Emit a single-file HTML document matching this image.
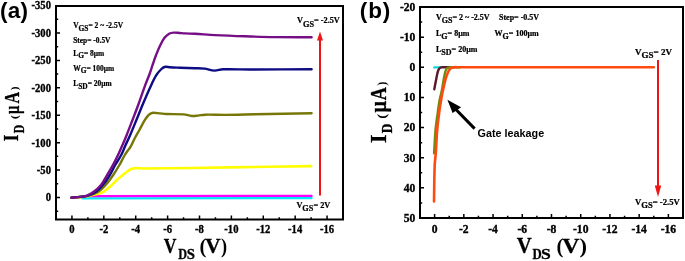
<!DOCTYPE html>
<html><head><meta charset="utf-8"><style>
html,body{margin:0;padding:0;background:#fff;}
body{width:685px;height:261px;overflow:hidden;}
svg{display:block;will-change:transform;}
</style></head><body>
<svg width="685" height="261" viewBox="0 0 685 261">
<rect width="685" height="261" fill="#fff"/>
<path d="M82.00 198.30 L311.60 198.10" stroke="#00eaff" stroke-width="2.3" fill="none" stroke-linejoin="round" stroke-linecap="round"/>
<path d="M89.00 196.10 L311.60 195.90" stroke="#ff00ff" stroke-width="2.3" fill="none" stroke-linejoin="round" stroke-linecap="round"/>
<path d="M71.50 197.60 C74.33 197.43 77.18 197.37 80.00 197.10 C82.68 196.84 85.35 196.46 88.00 196.00 C91.08 195.46 94.19 194.93 97.20 194.10 C99.29 193.53 101.47 192.92 103.30 191.80 C106.07 190.12 108.54 187.85 111.00 185.70 C113.27 183.72 115.27 181.43 117.50 179.40 C119.40 177.66 121.39 176.01 123.40 174.40 C125.05 173.08 126.74 171.77 128.50 170.60 C129.54 169.91 130.64 169.23 131.80 168.80 C132.87 168.40 134.05 168.13 135.20 168.10 C138.45 168.03 141.73 168.52 145.00 168.50 C173.33 168.29 201.67 167.81 230.00 167.40 C257.07 167.01 284.13 166.53 311.20 166.10" stroke="#ffff00" stroke-width="2.6" fill="none" stroke-linejoin="round" stroke-linecap="round"/>
<path d="M71.50 197.60 C74.33 197.40 77.18 197.29 80.00 197.00 C82.68 196.72 85.42 196.62 88.00 195.90 C91.42 194.95 95.01 193.85 98.00 192.00 C100.88 190.22 103.31 187.56 105.60 185.00 C108.38 181.89 110.82 178.44 113.20 175.00 C115.42 171.78 117.43 168.39 119.40 165.00 C121.30 161.72 122.89 158.27 124.80 155.00 C125.76 153.37 126.90 151.84 128.00 150.30 C128.57 149.51 129.26 148.81 129.80 148.00 C130.43 147.04 130.98 146.02 131.50 145.00 C132.68 142.69 133.69 140.29 134.90 138.00 C136.33 135.29 137.93 132.68 139.40 130.00 C141.16 126.78 142.69 123.42 144.60 120.30 C145.73 118.46 147.04 116.67 148.50 115.10 C149.18 114.37 150.10 113.83 151.00 113.40 C151.70 113.06 152.52 112.80 153.30 112.80 C155.52 112.80 157.77 113.19 160.00 113.40 C162.00 113.59 163.99 113.92 166.00 114.00 C171.89 114.25 177.84 113.94 183.70 114.40 C186.40 114.61 189.01 115.77 191.70 116.00 C193.78 116.17 195.91 115.80 198.00 115.60 C200.34 115.37 202.65 114.76 205.00 114.70 C211.65 114.53 218.33 114.95 225.00 114.90 C235.00 114.82 245.00 114.50 255.00 114.30 C273.87 113.93 292.73 113.57 311.60 113.20" stroke="#777708" stroke-width="2.4" fill="none" stroke-linejoin="round" stroke-linecap="round"/>
<path d="M71.50 197.60 C74.33 197.37 77.18 197.23 80.00 196.90 C82.34 196.63 84.76 196.50 87.00 195.80 C90.00 194.86 93.12 193.75 95.70 192.00 C98.42 190.15 100.77 187.56 102.90 185.00 C105.47 181.90 107.68 178.44 109.80 175.00 C111.78 171.78 113.32 168.29 115.20 165.00 C117.12 161.62 119.41 158.44 121.20 155.00 C122.88 151.78 124.11 148.32 125.60 145.00 C127.11 141.65 128.75 138.37 130.20 135.00 C132.35 130.03 134.35 125.01 136.40 120.00 C138.45 115.01 140.40 109.97 142.50 105.00 C144.90 99.31 147.31 93.61 149.90 88.00 C151.81 83.84 153.64 79.59 156.00 75.70 C157.48 73.26 159.35 70.94 161.40 69.00 C162.49 67.97 163.98 67.08 165.40 66.80 C166.84 66.51 168.46 67.21 170.00 67.30 C173.33 67.51 176.67 67.58 180.00 67.70 C185.00 67.88 190.00 68.02 195.00 68.20 C198.17 68.32 201.36 68.21 204.50 68.60 C207.86 69.01 211.15 70.47 214.50 70.60 C217.29 70.71 220.07 69.39 222.90 69.30 C231.91 69.02 240.97 69.50 250.00 69.50 C270.53 69.50 291.07 69.37 311.60 69.30" stroke="#0e0c84" stroke-width="2.4" fill="none" stroke-linejoin="round" stroke-linecap="round"/>
<path d="M71.20 197.70 C74.13 197.43 77.08 197.27 80.00 196.90 C82.15 196.63 84.39 196.53 86.40 195.80 C88.86 194.90 91.28 193.57 93.40 192.00 C96.15 189.97 98.86 187.66 101.00 185.00 C103.43 181.99 105.10 178.36 107.10 175.00 C109.07 171.69 111.06 168.38 112.90 165.00 C114.69 161.72 116.38 158.37 118.00 155.00 C119.58 151.71 121.04 148.35 122.50 145.00 C123.94 141.68 125.36 138.36 126.70 135.00 C128.69 130.02 130.58 125.01 132.50 120.00 C134.41 115.01 136.37 110.02 138.20 105.00 C140.63 98.32 142.85 91.57 145.30 84.90 C146.52 81.57 147.99 78.33 149.20 75.00 C150.52 71.37 151.64 67.66 152.90 64.00 C153.88 61.16 154.82 58.30 155.90 55.50 C157.15 52.27 158.39 49.01 159.90 45.90 C161.25 43.11 162.65 40.25 164.50 37.80 C165.72 36.18 167.37 34.68 169.10 33.70 C170.43 32.95 172.14 32.70 173.70 32.60 C175.61 32.47 177.57 32.86 179.50 33.00 C181.33 33.13 183.16 33.31 185.00 33.40 C188.33 33.57 191.67 33.61 195.00 33.80 C201.67 34.18 208.33 34.77 215.00 35.10 C224.99 35.60 235.00 35.97 245.00 36.30 C255.00 36.63 265.00 36.95 275.00 37.10 C287.20 37.28 299.40 37.23 311.60 37.30" stroke="#760f86" stroke-width="2.4" fill="none" stroke-linejoin="round" stroke-linecap="round"/>
<rect x="56.0" y="6.0" width="287.0" height="213.5" fill="none" stroke="#000" stroke-width="2"/>
<path d="M71.94 219.5v-4.00 M103.83 219.5v-4.00 M135.72 219.5v-4.00 M167.61 219.5v-4.00 M199.50 219.5v-4.00 M231.39 219.5v-4.00 M263.28 219.5v-4.00 M295.17 219.5v-4.00 M327.06 219.5v-4.00 M87.89 219.5v-2.20 M119.78 219.5v-2.20 M151.67 219.5v-2.20 M183.56 219.5v-2.20 M215.44 219.5v-2.20 M247.33 219.5v-2.20 M279.22 219.5v-2.20 M311.11 219.5v-2.20 M56.0 32.96h4.00 M56.0 60.39h4.00 M56.0 87.81h4.00 M56.0 115.23h4.00 M56.0 142.66h4.00 M56.0 170.08h4.00 M56.0 197.50h4.00 M56.0 19.25h2.20 M56.0 46.67h2.20 M56.0 74.10h2.20 M56.0 101.52h2.20 M56.0 128.94h2.20 M56.0 156.37h2.20 M56.0 183.79h2.20 M56.0 211.21h2.20" stroke="#000" stroke-width="1.5" fill="none"/>
<text transform="translate(71.94,233.00) scale(0.9,1)" font-family="&quot;Liberation Serif&quot;, serif" font-size="11.8" font-weight="bold" text-anchor="middle" fill="#000" stroke="#000" stroke-width="0.35">0</text>
<text transform="translate(103.83,233.00) scale(0.9,1)" font-family="&quot;Liberation Serif&quot;, serif" font-size="11.8" font-weight="bold" text-anchor="middle" fill="#000" stroke="#000" stroke-width="0.35">-2</text>
<text transform="translate(135.72,233.00) scale(0.9,1)" font-family="&quot;Liberation Serif&quot;, serif" font-size="11.8" font-weight="bold" text-anchor="middle" fill="#000" stroke="#000" stroke-width="0.35">-4</text>
<text transform="translate(167.61,233.00) scale(0.9,1)" font-family="&quot;Liberation Serif&quot;, serif" font-size="11.8" font-weight="bold" text-anchor="middle" fill="#000" stroke="#000" stroke-width="0.35">-6</text>
<text transform="translate(199.50,233.00) scale(0.9,1)" font-family="&quot;Liberation Serif&quot;, serif" font-size="11.8" font-weight="bold" text-anchor="middle" fill="#000" stroke="#000" stroke-width="0.35">-8</text>
<text transform="translate(231.39,233.00) scale(0.9,1)" font-family="&quot;Liberation Serif&quot;, serif" font-size="11.8" font-weight="bold" text-anchor="middle" fill="#000" stroke="#000" stroke-width="0.35">-10</text>
<text transform="translate(263.28,233.00) scale(0.9,1)" font-family="&quot;Liberation Serif&quot;, serif" font-size="11.8" font-weight="bold" text-anchor="middle" fill="#000" stroke="#000" stroke-width="0.35">-12</text>
<text transform="translate(295.17,233.00) scale(0.9,1)" font-family="&quot;Liberation Serif&quot;, serif" font-size="11.8" font-weight="bold" text-anchor="middle" fill="#000" stroke="#000" stroke-width="0.35">-14</text>
<text transform="translate(327.06,233.00) scale(0.9,1)" font-family="&quot;Liberation Serif&quot;, serif" font-size="11.8" font-weight="bold" text-anchor="middle" fill="#000" stroke="#000" stroke-width="0.35">-16</text>
<text transform="translate(51.00,9.44) scale(0.9,1)" font-family="&quot;Liberation Serif&quot;, serif" font-size="11.8" font-weight="bold" text-anchor="end" fill="#000" stroke="#000" stroke-width="0.35">-350</text>
<text transform="translate(51.00,36.86) scale(0.9,1)" font-family="&quot;Liberation Serif&quot;, serif" font-size="11.8" font-weight="bold" text-anchor="end" fill="#000" stroke="#000" stroke-width="0.35">-300</text>
<text transform="translate(51.00,64.29) scale(0.9,1)" font-family="&quot;Liberation Serif&quot;, serif" font-size="11.8" font-weight="bold" text-anchor="end" fill="#000" stroke="#000" stroke-width="0.35">-250</text>
<text transform="translate(51.00,91.71) scale(0.9,1)" font-family="&quot;Liberation Serif&quot;, serif" font-size="11.8" font-weight="bold" text-anchor="end" fill="#000" stroke="#000" stroke-width="0.35">-200</text>
<text transform="translate(51.00,119.13) scale(0.9,1)" font-family="&quot;Liberation Serif&quot;, serif" font-size="11.8" font-weight="bold" text-anchor="end" fill="#000" stroke="#000" stroke-width="0.35">-150</text>
<text transform="translate(51.00,146.56) scale(0.9,1)" font-family="&quot;Liberation Serif&quot;, serif" font-size="11.8" font-weight="bold" text-anchor="end" fill="#000" stroke="#000" stroke-width="0.35">-100</text>
<text transform="translate(51.00,173.98) scale(0.9,1)" font-family="&quot;Liberation Serif&quot;, serif" font-size="11.8" font-weight="bold" text-anchor="end" fill="#000" stroke="#000" stroke-width="0.35">-50</text>
<text transform="translate(51.00,201.40) scale(0.9,1)" font-family="&quot;Liberation Serif&quot;, serif" font-size="11.8" font-weight="bold" text-anchor="end" fill="#000" stroke="#000" stroke-width="0.35">0</text>
<text transform="translate(163.70,253.00) scale(0.858,1)" font-family="&quot;Liberation Serif&quot;, serif" font-size="20.5" font-weight="bold" fill="#000" stroke="#000" stroke-width="0.3">V</text>
<text transform="translate(178.29,258.80) scale(0.836,1)" font-family="&quot;Liberation Serif&quot;, serif" font-size="14.6" font-weight="bold" fill="#000" stroke="#000" stroke-width="0.3">D</text>
<text transform="translate(186.81,258.70) scale(1.012,1)" font-family="&quot;Liberation Serif&quot;, serif" font-size="14.6" font-weight="bold" fill="#000" stroke="#000" stroke-width="0.3">S</text>
<text transform="translate(199.49,252.70) scale(1.007,1)" font-family="&quot;Liberation Serif&quot;, serif" font-size="20.5" font-weight="bold" fill="#000" stroke="#000" stroke-width="0">(</text>
<text transform="translate(205.36,253.00) scale(1.039,1)" font-family="&quot;Liberation Serif&quot;, serif" font-size="20.5" font-weight="bold" fill="#000" stroke="#000" stroke-width="0.3">V</text>
<text transform="translate(221.01,252.70) scale(0.893,1)" font-family="&quot;Liberation Serif&quot;, serif" font-size="20.5" font-weight="bold" fill="#000" stroke="#000" stroke-width="0">)</text>
<text transform="translate(18.20,141.28) rotate(-90) scale(0.814,1)" font-family="&quot;Liberation Serif&quot;, serif" font-size="21" font-weight="bold" fill="#000" stroke="#000" stroke-width="0.3">I</text>
<text transform="translate(23.70,133.31) rotate(-90) scale(0.820,1)" font-family="&quot;Liberation Serif&quot;, serif" font-size="14.5" font-weight="bold" fill="#000" stroke="#000" stroke-width="0.3">D</text>
<text transform="translate(18.40,119.16) rotate(-90) scale(1.285,1)" font-family="&quot;Liberation Serif&quot;, serif" font-size="10" font-weight="bold" fill="#000" stroke="#000" stroke-width="0">(</text>
<text transform="translate(18.60,113.95) rotate(-90) scale(0.695,1)" font-family="&quot;Liberation Serif&quot;, serif" font-size="21" font-weight="bold" fill="#000" stroke="#000" stroke-width="0.3">µ</text>
<text transform="translate(18.60,103.46) rotate(-90) scale(0.763,1)" font-family="&quot;Liberation Serif&quot;, serif" font-size="21" font-weight="bold" fill="#000" stroke="#000" stroke-width="0.3">A</text>
<text transform="translate(18.40,90.36) rotate(-90) scale(1.129,1)" font-family="&quot;Liberation Serif&quot;, serif" font-size="10" font-weight="bold" fill="#000" stroke="#000" stroke-width="0">)</text>
<text transform="translate(73.20,27.90) scale(0.93,1)" font-family="&quot;Liberation Serif&quot;, serif" font-size="8.0" font-weight="bold" text-anchor="start" fill="#000" stroke="#000" stroke-width="0.22"><tspan>V</tspan><tspan font-size="8.0" dy="2.8">GS</tspan><tspan font-size="8.0" dy="-2.8">= 2 ~ -2.5V</tspan></text>
<text transform="translate(73.20,42.90) scale(0.93,1)" font-family="&quot;Liberation Serif&quot;, serif" font-size="8.0" font-weight="bold" text-anchor="start" fill="#000" stroke="#000" stroke-width="0.22">Step= -0.5V</text>
<text transform="translate(73.20,55.60) scale(0.93,1)" font-family="&quot;Liberation Serif&quot;, serif" font-size="8.0" font-weight="bold" text-anchor="start" fill="#000" stroke="#000" stroke-width="0.22"><tspan>L</tspan><tspan font-size="8.0" dy="2.8">G</tspan><tspan font-size="8.0" dy="-2.8">= 8µm</tspan></text>
<text transform="translate(73.20,70.60) scale(0.93,1)" font-family="&quot;Liberation Serif&quot;, serif" font-size="8.0" font-weight="bold" text-anchor="start" fill="#000" stroke="#000" stroke-width="0.22"><tspan>W</tspan><tspan font-size="8.0" dy="2.8">G</tspan><tspan font-size="8.0" dy="-2.8">= 100µm</tspan></text>
<text transform="translate(73.20,85.80) scale(0.93,1)" font-family="&quot;Liberation Serif&quot;, serif" font-size="8.0" font-weight="bold" text-anchor="start" fill="#000" stroke="#000" stroke-width="0.22"><tspan>L</tspan><tspan font-size="8.0" dy="2.8">SD</tspan><tspan font-size="8.0" dy="-2.8">= 20µm</tspan></text>
<path d="M320 195.5 V39" stroke="#f01414" stroke-width="2" fill="none"/>
<path d="M320 31.4 L323 40.5 L317 40.5 Z" fill="#f01414"/>
<text transform="translate(297.00,23.30) scale(0.92,1)" font-family="&quot;Liberation Serif&quot;, serif" font-size="9.0" font-weight="bold" text-anchor="start" fill="#000" stroke="#000" stroke-width="0.22"><tspan>V</tspan><tspan font-size="9.0" dy="3.4">GS</tspan><tspan font-size="9.0" dy="-3.4">= -2.5V</tspan></text>
<text transform="translate(296.40,207.60) scale(0.92,1)" font-family="&quot;Liberation Serif&quot;, serif" font-size="9.0" font-weight="bold" text-anchor="start" fill="#000" stroke="#000" stroke-width="0.22"><tspan>V</tspan><tspan font-size="9.0" dy="3.4">GS</tspan><tspan font-size="9.0" dy="-3.4">= 2V</tspan></text>
<text transform="translate(0.00,17.80)" font-family="&quot;Liberation Sans&quot;, sans-serif" font-size="22.5" font-weight="bold" text-anchor="start" fill="#000" letter-spacing="0.2">(a)</text>
<path d="M434.40 67.40 L440.60 67.40" stroke="#10d8d8" stroke-width="2.4" fill="none" stroke-linejoin="round" stroke-linecap="round"/>
<path d="M434.30 89.30 C435.07 85.27 435.75 81.22 436.60 77.20 C437.09 74.88 437.42 72.44 438.30 70.30 C438.75 69.21 439.62 68.02 440.60 67.50 C441.52 67.02 442.87 67.32 444.00 67.30 C446.67 67.25 449.33 67.30 452.00 67.30" stroke="#581a28" stroke-width="2.4" fill="none" stroke-linejoin="round" stroke-linecap="round"/>
<path d="M434.10 153.30 C434.57 145.53 434.83 137.75 435.50 130.00 C435.93 124.98 436.72 119.99 437.40 115.00 C438.08 109.99 438.71 104.97 439.60 100.00 C440.21 96.64 441.24 93.35 441.90 90.00 C442.74 85.75 443.26 81.44 444.10 77.20 C444.56 74.88 444.92 72.44 445.80 70.30 C446.25 69.21 447.11 67.98 448.10 67.50 C449.17 66.98 450.70 67.32 452.00 67.30 C454.67 67.26 457.33 67.30 460.00 67.30" stroke="#708a10" stroke-width="2.4" fill="none" stroke-linejoin="round" stroke-linecap="round"/>
<path d="M434.00 201.40 C434.23 189.27 434.25 177.12 434.70 165.00 C434.85 160.99 435.51 157.01 435.80 153.00 C436.35 145.34 436.54 137.65 437.20 130.00 C437.78 123.32 438.59 116.65 439.50 110.00 C440.19 104.98 441.13 99.99 442.00 95.00 C442.29 93.33 442.62 91.66 443.00 90.00 C443.89 86.12 444.66 82.20 445.80 78.40 C446.56 75.84 447.39 73.17 448.70 70.90 C449.49 69.54 450.68 67.95 452.10 67.50 C454.44 66.75 457.37 67.30 460.00 67.30 C524.60 67.24 589.20 67.30 653.80 67.30" stroke="#ff4a10" stroke-width="2.6" fill="none" stroke-linejoin="round" stroke-linecap="round"/>
<rect x="420.0" y="7.0" width="263.0" height="211.0" fill="none" stroke="#000" stroke-width="2"/>
<path d="M434.61 218.0v-4.00 M463.83 218.0v-4.00 M493.06 218.0v-4.00 M522.28 218.0v-4.00 M551.50 218.0v-4.00 M580.72 218.0v-4.00 M609.94 218.0v-4.00 M639.17 218.0v-4.00 M668.39 218.0v-4.00 M449.22 218.0v-2.20 M478.44 218.0v-2.20 M507.67 218.0v-2.20 M536.89 218.0v-2.20 M566.11 218.0v-2.20 M595.33 218.0v-2.20 M624.56 218.0v-2.20 M653.78 218.0v-2.20 M420.0 37.14h4.00 M420.0 67.29h4.00 M420.0 97.43h4.00 M420.0 127.57h4.00 M420.0 157.71h4.00 M420.0 187.86h4.00 M420.0 22.07h2.20 M420.0 52.21h2.20 M420.0 82.36h2.20 M420.0 112.50h2.20 M420.0 142.64h2.20 M420.0 172.79h2.20 M420.0 202.93h2.20" stroke="#000" stroke-width="1.5" fill="none"/>
<text transform="translate(434.61,233.00)" font-family="&quot;Liberation Serif&quot;, serif" font-size="11.6" font-weight="bold" text-anchor="middle" fill="#000" stroke="#000" stroke-width="0.35">0</text>
<text transform="translate(463.83,233.00)" font-family="&quot;Liberation Serif&quot;, serif" font-size="11.6" font-weight="bold" text-anchor="middle" fill="#000" stroke="#000" stroke-width="0.35">-2</text>
<text transform="translate(493.06,233.00)" font-family="&quot;Liberation Serif&quot;, serif" font-size="11.6" font-weight="bold" text-anchor="middle" fill="#000" stroke="#000" stroke-width="0.35">-4</text>
<text transform="translate(522.28,233.00)" font-family="&quot;Liberation Serif&quot;, serif" font-size="11.6" font-weight="bold" text-anchor="middle" fill="#000" stroke="#000" stroke-width="0.35">-6</text>
<text transform="translate(551.50,233.00)" font-family="&quot;Liberation Serif&quot;, serif" font-size="11.6" font-weight="bold" text-anchor="middle" fill="#000" stroke="#000" stroke-width="0.35">-8</text>
<text transform="translate(580.72,233.00)" font-family="&quot;Liberation Serif&quot;, serif" font-size="11.6" font-weight="bold" text-anchor="middle" fill="#000" stroke="#000" stroke-width="0.35">-10</text>
<text transform="translate(609.94,233.00)" font-family="&quot;Liberation Serif&quot;, serif" font-size="11.6" font-weight="bold" text-anchor="middle" fill="#000" stroke="#000" stroke-width="0.35">-12</text>
<text transform="translate(639.17,233.00)" font-family="&quot;Liberation Serif&quot;, serif" font-size="11.6" font-weight="bold" text-anchor="middle" fill="#000" stroke="#000" stroke-width="0.35">-14</text>
<text transform="translate(668.39,233.00)" font-family="&quot;Liberation Serif&quot;, serif" font-size="11.6" font-weight="bold" text-anchor="middle" fill="#000" stroke="#000" stroke-width="0.35">-16</text>
<text transform="translate(415.40,10.90)" font-family="&quot;Liberation Serif&quot;, serif" font-size="11.6" font-weight="bold" text-anchor="end" fill="#000" stroke="#000" stroke-width="0.35">-20</text>
<text transform="translate(415.40,41.04)" font-family="&quot;Liberation Serif&quot;, serif" font-size="11.6" font-weight="bold" text-anchor="end" fill="#000" stroke="#000" stroke-width="0.35">-10</text>
<text transform="translate(415.40,71.19)" font-family="&quot;Liberation Serif&quot;, serif" font-size="11.6" font-weight="bold" text-anchor="end" fill="#000" stroke="#000" stroke-width="0.35">0</text>
<text transform="translate(415.40,101.33)" font-family="&quot;Liberation Serif&quot;, serif" font-size="11.6" font-weight="bold" text-anchor="end" fill="#000" stroke="#000" stroke-width="0.35">10</text>
<text transform="translate(415.40,131.47)" font-family="&quot;Liberation Serif&quot;, serif" font-size="11.6" font-weight="bold" text-anchor="end" fill="#000" stroke="#000" stroke-width="0.35">20</text>
<text transform="translate(415.40,161.61)" font-family="&quot;Liberation Serif&quot;, serif" font-size="11.6" font-weight="bold" text-anchor="end" fill="#000" stroke="#000" stroke-width="0.35">30</text>
<text transform="translate(415.40,191.76)" font-family="&quot;Liberation Serif&quot;, serif" font-size="11.6" font-weight="bold" text-anchor="end" fill="#000" stroke="#000" stroke-width="0.35">40</text>
<text transform="translate(415.40,221.90)" font-family="&quot;Liberation Serif&quot;, serif" font-size="11.6" font-weight="bold" text-anchor="end" fill="#000" stroke="#000" stroke-width="0.35">50</text>
<text transform="translate(516.67,253.10) scale(0.933,1)" font-family="&quot;Liberation Serif&quot;, serif" font-size="22.2" font-weight="bold" fill="#000" stroke="#000" stroke-width="0.3">V</text>
<text transform="translate(532.57,258.80) scale(0.854,1)" font-family="&quot;Liberation Serif&quot;, serif" font-size="15" font-weight="bold" fill="#000" stroke="#000" stroke-width="0.3">D</text>
<text transform="translate(540.96,258.70) scale(1.173,1)" font-family="&quot;Liberation Serif&quot;, serif" font-size="15" font-weight="bold" fill="#000" stroke="#000" stroke-width="0.3">S</text>
<text transform="translate(556.49,253.00) scale(0.955,1)" font-family="&quot;Liberation Serif&quot;, serif" font-size="21.6" font-weight="bold" fill="#000" stroke="#000" stroke-width="0">(</text>
<text transform="translate(562.33,253.20) scale(1.110,1)" font-family="&quot;Liberation Serif&quot;, serif" font-size="21.5" font-weight="bold" fill="#000" stroke="#000" stroke-width="0.3">V</text>
<text transform="translate(579.47,253.00) scale(1.045,1)" font-family="&quot;Liberation Serif&quot;, serif" font-size="21.6" font-weight="bold" fill="#000" stroke="#000" stroke-width="0">)</text>
<text transform="translate(386.40,142.93) rotate(-90) scale(0.976,1)" font-family="&quot;Liberation Serif&quot;, serif" font-size="22.3" font-weight="bold" fill="#000" stroke="#000" stroke-width="0.3">I</text>
<text transform="translate(391.60,133.34) rotate(-90) scale(0.945,1)" font-family="&quot;Liberation Serif&quot;, serif" font-size="14.2" font-weight="bold" fill="#000" stroke="#000" stroke-width="0.3">D</text>
<text transform="translate(386.30,118.75) rotate(-90) scale(1.233,1)" font-family="&quot;Liberation Serif&quot;, serif" font-size="12" font-weight="bold" fill="#000" stroke="#000" stroke-width="0">(</text>
<text transform="translate(386.40,112.54) rotate(-90) scale(0.903,1)" font-family="&quot;Liberation Serif&quot;, serif" font-size="22.3" font-weight="bold" fill="#000" stroke="#000" stroke-width="0.3">µ</text>
<text transform="translate(386.40,100.28) rotate(-90) scale(0.814,1)" font-family="&quot;Liberation Serif&quot;, serif" font-size="22.3" font-weight="bold" fill="#000" stroke="#000" stroke-width="0.3">A</text>
<text transform="translate(386.30,85.56) rotate(-90) scale(0.941,1)" font-family="&quot;Liberation Serif&quot;, serif" font-size="12" font-weight="bold" fill="#000" stroke="#000" stroke-width="0">)</text>
<text transform="translate(436.00,20.00)" font-family="&quot;Liberation Serif&quot;, serif" font-size="8.0" font-weight="bold" text-anchor="start" fill="#000" stroke="#000" stroke-width="0.22"><tspan>V</tspan><tspan font-size="8.0" dy="2.8">GS</tspan><tspan font-size="8.0" dy="-2.8">= 2 ~ -2.5V</tspan></text>
<text transform="translate(499.00,20.00)" font-family="&quot;Liberation Serif&quot;, serif" font-size="8.0" font-weight="bold" text-anchor="start" fill="#000" stroke="#000" stroke-width="0.22">Step= -0.5V</text>
<text transform="translate(436.00,35.70)" font-family="&quot;Liberation Serif&quot;, serif" font-size="8.0" font-weight="bold" text-anchor="start" fill="#000" stroke="#000" stroke-width="0.22"><tspan>L</tspan><tspan font-size="8.0" dy="2.8">G</tspan><tspan font-size="8.0" dy="-2.8">= 8µm</tspan></text>
<text transform="translate(494.60,35.70)" font-family="&quot;Liberation Serif&quot;, serif" font-size="8.0" font-weight="bold" text-anchor="start" fill="#000" stroke="#000" stroke-width="0.22"><tspan>W</tspan><tspan font-size="8.0" dy="2.8">G</tspan><tspan font-size="8.0" dy="-2.8">= 100µm</tspan></text>
<text transform="translate(436.00,52.00)" font-family="&quot;Liberation Serif&quot;, serif" font-size="8.0" font-weight="bold" text-anchor="start" fill="#000" stroke="#000" stroke-width="0.22"><tspan>L</tspan><tspan font-size="8.0" dy="2.8">SD</tspan><tspan font-size="8.0" dy="-2.8">= 20µm</tspan></text>
<path d="M474.6 128.6 L455 108.5" stroke="#000" stroke-width="3" fill="none"/>
<path d="M447.4 99.7 L461.1 107.2 L452.6 113 Z" fill="#000"/>
<text transform="translate(477.60,137.00)" font-family="&quot;Liberation Sans&quot;, sans-serif" font-size="10.8" font-weight="bold" text-anchor="start" fill="#000">Gate leakage</text>
<path d="M658 60 V188" stroke="#f01414" stroke-width="2" fill="none"/>
<path d="M658 197 L661.2 185.6 L654.8 185.6 Z" fill="#f01414"/>
<text transform="translate(635.00,54.60)" font-family="&quot;Liberation Serif&quot;, serif" font-size="9.0" font-weight="bold" text-anchor="start" fill="#000" stroke="#000" stroke-width="0.22"><tspan>V</tspan><tspan font-size="9.0" dy="3.4">GS</tspan><tspan font-size="9.0" dy="-3.4">= 2V</tspan></text>
<text transform="translate(635.00,204.90) scale(0.96,1)" font-family="&quot;Liberation Serif&quot;, serif" font-size="9.0" font-weight="bold" text-anchor="start" fill="#000" stroke="#000" stroke-width="0.22"><tspan>V</tspan><tspan font-size="9.0" dy="3.4">GS</tspan><tspan font-size="9.0" dy="-3.4">= -2.5V</tspan></text>
<text transform="translate(359.80,17.80)" font-family="&quot;Liberation Sans&quot;, sans-serif" font-size="22.5" font-weight="bold" text-anchor="start" fill="#000" letter-spacing="0.9">(b)</text>
</svg>
</body></html>
